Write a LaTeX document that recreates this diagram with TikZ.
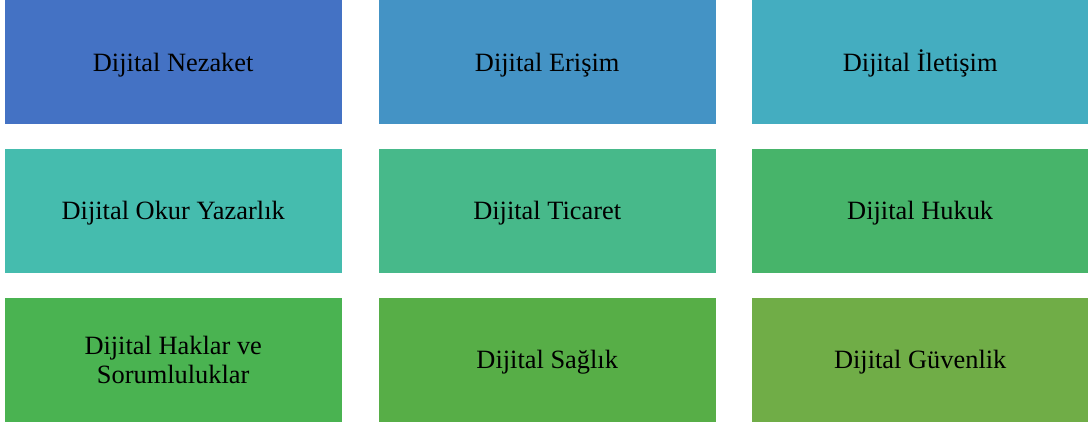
\documentclass[tikz,border=0pt]{standalone}
\usepackage{fontspec}
\setmainfont{Liberation Serif}
\definecolor{c1}{HTML}{4472C4}
\definecolor{c2}{HTML}{4493C5}
\definecolor{c3}{HTML}{44ADC0}
\definecolor{c4}{HTML}{45BCAE}
\definecolor{c5}{HTML}{47B98A}
\definecolor{c6}{HTML}{47B46A}
\definecolor{c7}{HTML}{4AB351}
\definecolor{c8}{HTML}{57AE47}
\definecolor{c9}{HTML}{70AD47}
\tikzset{
  tile/.style={fill=#1, draw=none, minimum width=337pt, minimum height=124pt,
    inner sep=0pt, anchor=north west, align=center, text=black, text depth=0pt,
    font=\fontsize{26.4}{29}\selectfont}
}
\begin{document}
\begin{tikzpicture}[x=1pt,y=-1pt]
\useasboundingbox (0,0) rectangle (1088,425);
\node[tile=c1] (n1) at (4.5,0) {Dijital Nezaket};
\node[tile=c2] (n2) at (378.5,0) {Dijital Erişim};
\node[tile=c3, text height=18.2pt] (n3) at (751.5,0) {Dijital İletişim};
\node[tile=c4] (n4) at (4.5,148.5) {Dijital Okur Yazarlık};
\node[tile=c5] (n5) at (378.5,148.5) {Dijital Ticaret};
\node[tile=c6] (n6) at (751.5,148.5) {Dijital Hukuk};
\node[tile=c7] (n7) at (4.5,297.5) {Dijital Haklar ve\\Sorumluluklar};
\node[tile=c8] (n8) at (378.5,297.5) {Dijital Sağlık};
\node[tile=c9] (n9) at (751.5,297.5) {Dijital Güvenlik};
\end{tikzpicture}
\end{document}
